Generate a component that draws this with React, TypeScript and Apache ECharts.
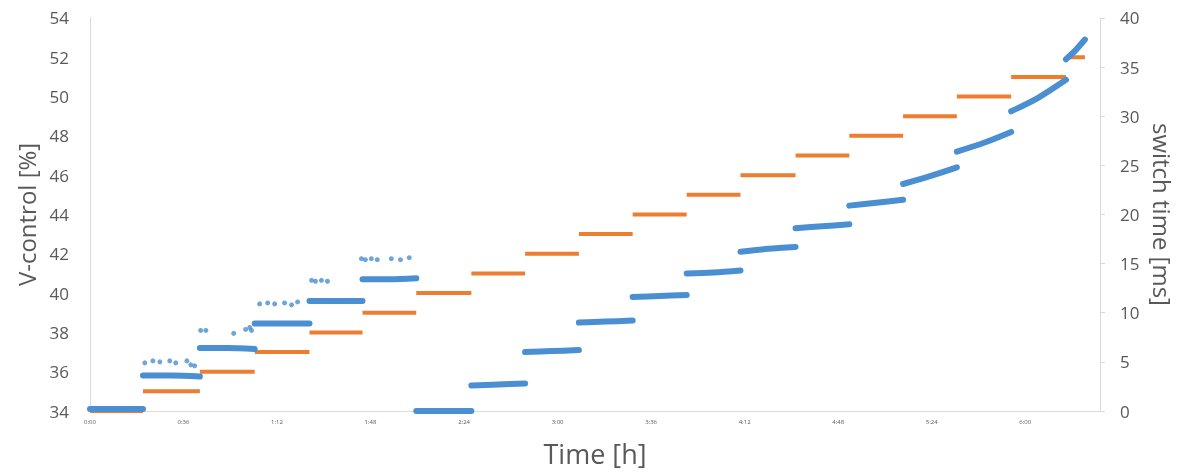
import React, { useEffect, useRef } from "react";
import * as echarts from "echarts";

// Step boundaries in minutes (20 edges -> 19 steps)
const stepEdgesMin = [0, 20.4, 42.3, 63.4, 84.5, 104.9, 125.6, 146.8, 167.5, 188.2, 208.9, 229.7, 250.4, 271.6, 292.3, 313.0, 333.7, 354.6, 375.7, 383.0];
// Switch time [ms] of each step (right axis)
const switchTimeMs = [0, 2, 4, 6, 8, 10, 12, 14, 16, 18, 20, 22, 24, 26, 28, 30, 32, 34, 36];
// V-control [%] at start, middle and end of each step (left axis)
const vStart = [34.1, 35.8, 37.2, 38.45, 39.6, 40.7, 34.0, 35.3, 37.0, 38.5, 39.8, 41.0, 42.1, 43.3, 44.45, 45.55, 47.2, 49.25, 51.9];
const vMid = [34.1, 35.8, 37.2, 38.45, 39.6, 40.7, 34.0, 35.35, 37.05, 38.55, 39.85, 41.05, 42.25, 43.4, 44.6, 45.95, 47.65, 49.95, 52.35];
const vEnd = [34.1, 35.75, 37.15, 38.45, 39.6, 40.75, 34.0, 35.4, 37.1, 38.6, 39.9, 41.15, 42.35, 43.5, 44.75, 46.4, 48.2, 50.85, 52.9];
// Scattered outlier readings above the band
const outlierMin = [21.1, 24.2, 26.9, 30.7, 33.0, 37.3, 38.8, 40.3, 42.6, 44.6, 55.3, 59.9, 61.5, 62.2, 65.3, 68.4, 71.1, 74.9, 77.6, 79.9, 85.3, 86.8, 89.1, 91.4, 104.5, 106.0, 108.3, 110.6, 116.0, 119.5, 122.9];
const outlierV = [36.45, 36.55, 36.5, 36.55, 36.45, 36.55, 36.35, 36.3, 38.1, 38.1, 37.95, 38.15, 38.25, 38.1, 39.45, 39.5, 39.45, 39.5, 39.4, 39.55, 40.65, 40.6, 40.65, 40.6, 41.75, 41.7, 41.75, 41.7, 41.75, 41.7, 41.8];
// X tick values (minutes) and labels
const xTickMin = [0, 36, 72, 108, 144, 180, 216, 252, 288, 324, 360];
const xTickLabels = ["0:00", "0:36", "1:12", "1:48", "2:24", "3:00", "3:36", "4:12", "4:48", "5:24", "6:00"];

const BLUE = "#4A8FD2";
const ORANGE = "#ED7D31";
const GRAY = "#595959";
const FONT = "Open Sans";

export default function App() {
  const ref = useRef<HTMLDivElement>(null);
  useEffect(() => {
    if (!ref.current) return;
    const chart = echarts.init(ref.current, null, { renderer: "svg" });
    const series: any[] = [];
    for (let i = 0; i < switchTimeMs.length; i++) {
      const a = stepEdgesMin[i];
      const b = stepEdgesMin[i + 1];
      series.push({
        type: "line",
        yAxisIndex: 1,
        data: [[a, switchTimeMs[i]], [b, switchTimeMs[i]]],
        showSymbol: false,
        symbol: "none",
        clip: false,
        z: 2,
        lineStyle: { color: ORANGE, width: 4, cap: "butt" },
        silent: true,
      });
    }
    for (let i = 0; i < vStart.length; i++) {
      const a = stepEdgesMin[i];
      const b = stepEdgesMin[i + 1];
      series.push({
        type: "line",
        yAxisIndex: 0,
        data: [[a, vStart[i]], [(a + b) / 2, vMid[i]], [b, vEnd[i]]],
        showSymbol: false,
        symbol: "none",
        smooth: 0.3,
        clip: false,
        z: 3,
        lineStyle: { color: BLUE, width: 6, cap: "round" },
        silent: true,
      });
    }
    series.push({
      type: "scatter",
      yAxisIndex: 0,
      data: outlierMin.map((m, i) => [m, outlierV[i]]),
      symbolSize: 5,
      itemStyle: { color: BLUE },
      z: 3,
      silent: true,
    });

    chart.setOption({
      animation: false,
      textStyle: { fontFamily: FONT },
      grid: { left: 90, right: 86, top: "3.8%", bottom: "12.5%", containLabel: false },
      xAxis: {
        type: "value",
        min: 0,
        max: 388.8,
        interval: 36,
        name: "Time [h]",
        nameLocation: "middle",
        nameGap: 29,
        nameTextStyle: { fontSize: 27, color: GRAY, fontFamily: FONT },
        axisLine: { show: true, lineStyle: { color: "#D9D9D9", width: 1 } },
        axisTick: { show: false },
        splitLine: { show: false },
        axisLabel: {
          fontSize: 6,
          color: GRAY,
          margin: 8,
          formatter: (v: number) => {
            const idx = xTickMin.indexOf(Math.round(v * 10) / 10);
            return idx >= 0 ? xTickLabels[idx] : "";
          },
        },
      },
      yAxis: [
        {
          type: "value",
          min: 34,
          max: 54,
          interval: 2,
          position: "left",
          name: "V-control [%]",
          nameLocation: "middle",
          nameGap: 50,
          nameRotate: 90,
          nameTextStyle: { fontSize: 24, color: GRAY, fontFamily: FONT },
          axisLine: { show: true, lineStyle: { color: "#D9D9D9", width: 1 } },
          axisTick: { show: false },
          splitLine: { show: false },
          axisLabel: { fontSize: 17, color: GRAY, margin: 21 },
        },
        {
          type: "value",
          min: 0,
          max: 40,
          interval: 5,
          position: "right",
          name: "switch time [ms]",
          nameLocation: "middle",
          nameGap: 48,
          nameRotate: -90,
          nameTextStyle: { fontSize: 24, color: GRAY, fontFamily: FONT },
          axisLine: { show: true, lineStyle: { color: "#D9D9D9", width: 1 } },
          axisTick: { show: true, inside: false, length: 5, lineStyle: { color: "#D9D9D9" } },
          splitLine: { show: false },
          axisLabel: { fontSize: 17, color: GRAY, margin: 20 },
        },
      ],
      series,
    });
    return () => chart.dispose();
  }, []);
  return (
    <div
      ref={ref}
      style={{ position: "fixed", left: 0, top: 0, width: "100vw", height: "100vh" }}
    />
  );
}
